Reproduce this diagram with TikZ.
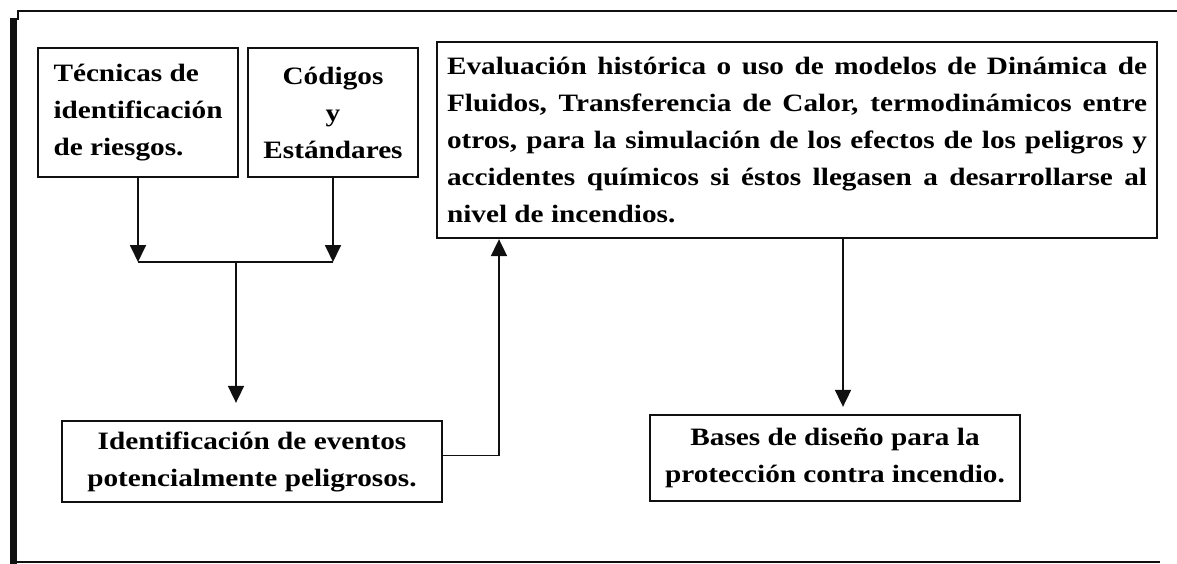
\documentclass[tikz,border=0pt]{standalone}
\usepackage{fontspec}
\usepackage{tikz}
\usetikzlibrary{calc,arrows.meta,positioning}
\newfontfamily\scanfont{Liberation Serif}[FakeStretch=1.17]
\definecolor{inkc}{HTML}{101010}
\tikzset{
  ar/.style={-{Triangle[length=17pt,width=16pt]},line width=1.8pt,inkc},
  ln/.style={line width=1.8pt,inkc},
  box/.style={draw=inkc,line width=2.3pt,align=center,inner sep=0pt,font=\scanfont\bfseries\fontsize{25}{37}\selectfont}
}
\begin{document}
\begin{tikzpicture}[x=1pt,y=-1pt]
\useasboundingbox (0,0) rectangle (1177,564);
% frame
\draw[line width=7pt,inkc] (13,18) -- (13,564);
\draw[ln] (18,20) -- (18,11) -- (1177,11);
\draw[ln] (10,562) -- (1160,562);
% boxes
\node[box,minimum width=200pt,minimum height=129pt,align=left] (tec) at (138,112.5) {Técnicas de\\identificación\\de riesgos.};
\node[box,minimum width=170pt,minimum height=129pt] (cod) at (333,112.5) {Códigos\\y\\Estándares};
\node[box,text width=700pt,inner xsep=10pt,minimum height=196pt,align=justify] (eva) at (797,140) {Evaluación histórica o uso de modelos de Dinámica de\linebreak Fluidos, Transferencia de Calor, termodinámicos entre\linebreak otros, para la simulación de los efectos de los peligros y\linebreak accidentes químicos si éstos llegasen a desarrollarse al\linebreak nivel de incendios.};
\node[box,minimum width=380pt,minimum height=81pt] (ide) at (252,461.5) {Identificación de eventos\\potencialmente peligrosos.};
\node[box,minimum width=370pt,minimum height=86pt] (bas) at (835,458) {Bases de diseño para la\\protección contra incendio.};
% connectors
\coordinate (bus) at (236,262);
\coordinate (up) at (499,455);
\coordinate (dn) at (843,0);
\draw[ar] (tec.south) -- (tec.south |- bus);
\draw[ar] (cod.south) -- (cod.south |- bus);
\draw[ln] (tec.south |- bus) -- (cod.south |- bus);
\draw[ar,shorten >=17pt] (bus) -- (bus |- ide.north);
\draw[ar] ([yshift=6pt]ide.east) -| (up |- eva.south);
\draw[ar,shorten >=7pt] (dn |- eva.south) -- (dn |- bas.north);
\end{tikzpicture}
\end{document}
